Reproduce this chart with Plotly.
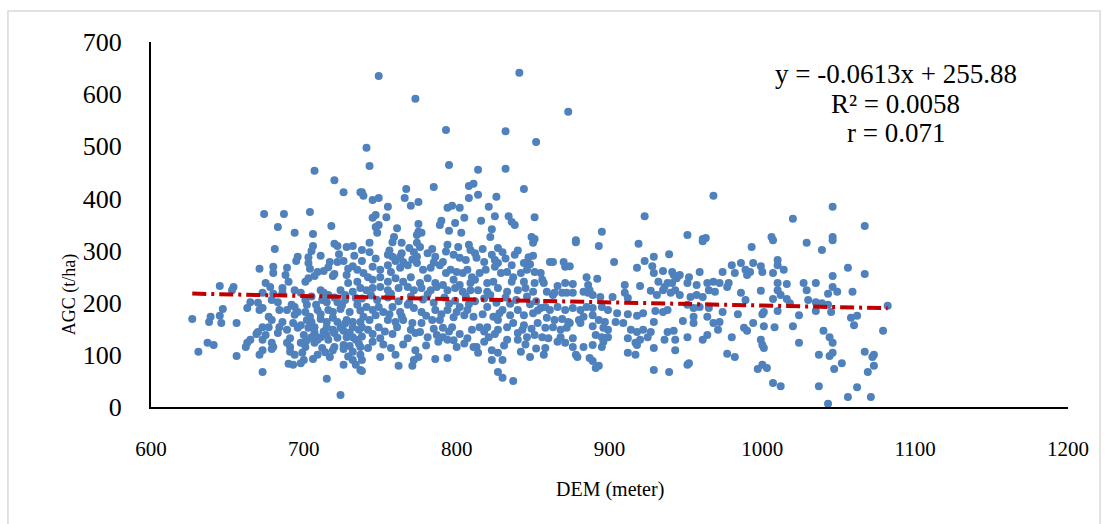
import plotly.graph_objects as go

# (DEM meter, AGC t/ha) pairs, grouped by region
pts_upper = [(707,453),(720,435),(726,412),(737,412),(674,370),(687,370),(704,374),(683,345),(694,334),(706,332),(718,347),
    (749,635),(773,591),(793,531),(841,641),(832,529),(852,508),(741,497),(743,462),(795,464),(814,455),(832,457),(738,412),
    (739,405),(745,397),(749,401),(755,384),(767,418),(766,401),(770,386),(775,393),(785,422),(808,424),(811,428),(808,401),
    (814,407),(826,403),(844,418),(794,382),(797,386),(802,382),(821,384),(747,368),(745,363),(754,364),(749,349),(747,345),
    (748,334),(761,343),(775,351),(790,357),(789,349),(795,338),(799,353),(805,363),(803,334),(816,357),(825,366),(834,366),
    (836,355),(838,349),(823,341),(851,364),(775,336),(777,334),(774,330),(759,326),(822,326),(849,326),(851,322),
    (873,566),(968,405),(923,366),(895,336),(878,320),(951,330),(961,322),(963,324),
    (1046,384),(1020,361),(1067,347),(1006,326),(1046,326)]

pts_left = [(681,303),(706,309),(705,299),(720,313),(722,309),(728,307),(732,309),(696,288),(695,280),(671,265),(680,269),
    (680,257),(689,267),(688,253),(703,276),(709,259),(713,261),(707,251),(717,278),(722,278),(726,280),(732,270),(735,263),
    (720,255),(719,251),(728,253),(675,238),(678,230),(686,228),(690,240),(701,240),(703,247),(645,232),(654,230),(653,224),
    (729,238),(735,240),(673,219),(680,217),(686,219),(694,224),(698,219),(711,224),(713,219),(716,215),(724,224),(732,221),
    (665,201),(670,200),(679,205),(683,201),(692,196),(694,192),(702,196),(715,201),(722,201),(727,205),(734,209),(735,196),
    (663,190),(647,188),(671,186),(673,190),(684,186),(689,186),(696,182),(701,182),(709,186),(711,178),(716,186),(719,182),
    (724,188),(730,182),(627,169),(638,163),(639,173),(645,175),(646,161),(656,161),(677,173),(679,167),(686,163),(694,177),
    (693,161),(702,167),(704,173),(711,169),(715,163),(719,171),(722,163),(728,167),(732,163),(673,153),(670,144),(677,153),
    (684,153),(689,148),(696,152),(698,157),(703,152),(707,153),(715,153),(719,148),(724,152),(732,153),(736,148),(669,140),
    (675,138),(683,142),(691,132),(700,138),(705,134),(711,134),(715,138),(720,142),(726,146),(728,134),(732,134),(665,129),
    (663,123),(662,115),(673,129),(679,123),(680,115),(689,123),(691,115),(698,123),(701,115),(707,123),(709,129),(716,129),
    (720,115),(726,119),(730,117),(734,129),(637,123),(641,119),(631,106),(673,109),(671,100),(679,111),(691,106),(694,100),
    (699,104),(712,113),(719,109),(726,111),(732,106),(656,98),(700,90),(698,84),(706,92),(717,96),(726,81),(732,90),(734,81),
    (690,83),(693,81),(673,67),(737,71),(715,54),(724,23),
    (705,212),(712,205),(720,210),(727,215),(738,208),(701,205),(708,196),(725,195),(737,185),(707,143),(713,145),(730,143),
    (738,135),(702,128),(722,133),(736,122),(709,100),(714,105),(729,97),(738,90),(705,163),(727,160),(737,163),(703,287),
    (711,290),(723,293),(733,290),(738,280),(704,265),(716,268),(729,265)]

pts_center = [(743,315),(743,297),(738,301),(758,316),(764,315),(764,295),(774,315),(776,307),(794,311),(801,307),(808,311),
    (809,301),(827,305),(830,297),(850,315),(850,290),(755,292),(758,288),(763,288),(765,278),(772,297),(774,288),(781,295),
    (786,288),(791,278),(798,292),(802,286),(812,295),(813,286),(823,292),(825,282),(827,276),(836,272),(844,276),(848,274),
    (745,269),(750,263),(755,272),(757,259),(763,267),(768,272),(774,276),(778,263),(783,267),(789,272),(793,257),(796,263),
    (800,259),(804,257),(807,263),(810,249),(815,257),(819,263),(825,269),(829,257),(833,259),(837,249),(842,257),(846,263),
    (851,259),(739,257),(742,249),(745,244),(750,249),(755,240),(760,247),(765,240),(770,249),(776,238),(781,247),(786,238),
    (791,234),(798,244),(802,234),(809,238),(812,244),(820,238),(824,240),(836,240),(844,240),(851,238),(737,228),(741,224),
    (745,228),(750,230),(755,224),(762,228),(768,230),(772,224),(777,228),(783,224),(787,230),(794,224),(799,228),(804,221),
    (809,224),(814,224),(820,221),(827,228),(833,221),(840,224),(845,228),(850,221),
    (741,192),(745,186),(739,173),(743,167),(738,153),(742,148),(749,192),(752,182),(749,153),(750,132),(758,192),(763,182),
    (755,167),(760,163),(761,153),(768,196),(772,190),(765,167),(771,161),(777,182),(777,161),(784,167),(786,186),(770,148),
    (768,132),(776,144),(781,134),(789,167),(791,152),(797,153),(794,186),(800,182),(791,134),(794,129),(787,138),(802,192),
    (807,186),(811,173),(815,153),(807,132),(813,115),(820,192),(824,173),(820,153),(821,134),(827,167),(827,148),(830,186),
    (835,176),(840,186),(833,153),(837,161),(844,157),(840,142),(846,134),(851,138),(833,129),(840,129),(850,180),(853,161),
    (737,115),(742,113),(737,100),(750,96),(757,113),(760,100),(773,109),(775,96),(772,90),(786,92),(794,94),(800,115),
    (811,115),(814,104),(823,109),(827,104),(823,90),(830,90),(842,106),(848,96),(762,79),(771,79),(738,69),(827,67),
    (830,56),(837,50)]

pts_core = [(748,205),(755,210),(762,203),(770,212),(778,206),(785,200),(792,210),(799,204),(806,212),(812,203),(818,208),
    (826,200),(832,210),(839,205),(846,212),(852,203),(744,214),(757,217),(769,200),(781,216),(795,198),(808,197),(822,215),
    (835,198),(848,197),(747,176),(756,178),(764,174),(780,175),(790,178),(798,172),(805,176),(817,178),(828,180),(844,176),
    (853,185),(745,140),(753,145),(758,140),(773,142),(785,150),(795,145),(802,140),(810,148),(818,145),(825,140),(843,148),
    (849,150),(745,125),(752,120),(765,120),(780,118),(788,125),(798,128),(805,122),(818,125),(831,118),(845,120),(852,112),
    (747,285),(760,280),(771,283),(785,277),(793,298),(806,282),(818,278),(832,285),(840,300),(847,287),(756,300),(769,305),
    (784,303),(817,303),(838,292)]

pts_right = [(878,316),(893,309),(919,313),(961,318),(861,278),(863,278),(870,278),(871,269),(874,270),(903,278),(918,267),
    (923,280),(929,288),(928,270),(939,293),(929,257),(935,261),(941,259),(942,253),(946,253),(952,249),(959,259),(855,257),
    (856,244),(885,249),(892,246),(857,238),(866,232),(871,238),(876,236),(886,234),(887,224),(910,234),(920,232),(932,240),
    (938,238),(936,230),(944,247),(941,238),(951,238),(957,234),(964,238),(968,240),(859,221),(863,215),(864,219),(869,219),
    (872,219),(876,219),(883,221),(886,219),(889,215),(894,211),(902,211),(910,219),(912,209),(927,223),(931,215),(935,224),
    (940,219),(943,224),(946,215),(953,211),(957,215),(961,211),(965,224),(969,221),
    (855,190),(858,192),(861,186),(866,192),(871,186),(876,190),(881,186),(885,192),(889,190),(895,192),(899,186),(905,180),
    (912,178),(918,175),(922,180),(930,184),(935,182),(938,186),(951,196),(955,190),(959,192),(965,190),(859,171),(864,167),
    (869,169),(873,163),(880,167),(883,173),(889,176),(893,167),(897,163),(904,163),(909,161),(929,163),(948,165),(955,173),
    (964,173),(858,152),(863,153),(868,148),(872,152),(874,161),(881,161),(889,155),(896,152),(899,148),(914,148),(918,144),
    (922,148),(927,144),(938,144),(942,146),(951,134),(955,161),(964,138),(968,161),(971,148),(856,134),(860,132),(868,134),
    (866,125),(871,123),(876,132),(876,115),(891,138),(895,134),(896,125),(899,134),(912,132),(920,129),(925,134),(936,129),
    (943,129),(961,129),(858,113),(857,100),(883,115),(889,119),(895,115),(917,123),(918,119),(929,113),(943,109),(912,104),
    (917,100),(878,100),(879,96),(887,94),(889,88),(893,79),(891,75),(951,81),(952,84),(929,71),(939,67)]

pts_far = [(993,307),(1007,320),(1029,315),(1039,301),(1046,320),(980,272),(986,276),(974,259),(982,257),(989,263),(992,259),
    (994,276),(999,270),(1000,259),(990,253),(1007,257),(1010,282),(1010,272),(1014,263),(1046,251),(1056,267),(1067,255),
    (972,238),(978,238),(977,230),(986,219),(989,205),(999,223),(1010,238),(1016,236),(1010,224),(1012,215),(1027,238),
    (1029,224),(1035,238),(1046,230),(1049,221),(1043,217),(1059,221),(1007,207),(1016,207),(1018,199),(1030,205),(1035,201),
    (1039,199),(1043,196),(1082,194),(974,182),(984,178),(1001,182),(1000,178),(1010,184),(1024,176),(1035,184),(1045,182),
    (1058,171),(1060,157),(1062,175),(972,163),(988,152),(990,146),(994,161),(1001,155),(1008,153),(1020,155),(1040,146),
    (1044,134),(1046,123),(1079,146),(980,134),(999,129),(1000,119),(1001,113),(1024,123),(977,102),(982,96),(1037,100),
    (1044,98),(1046,104),(1067,106),(1073,100),(1072,96),(1052,84),(1047,73),(1073,79),(1069,67),(997,73),(1000,81),
    (1003,75),(1007,46),(1012,40),(1037,40),(1062,38),(1056,19),(1071,19),(1043,6)]

slope = -0.0613
intercept = 255.88
trend_x = [627, 1082]
eq_lines = ["y = -0.0613x + 255.88", "R² = 0.0058", "r = 0.071"]

all_pts = pts_upper + pts_left + pts_center + pts_core + pts_right + pts_far
dem = [p[0] for p in all_pts]
agc = [p[1] for p in all_pts]

serif = "Liberation Serif, Times New Roman, serif"

fig = go.Figure()
fig.add_trace(go.Scatter(x=dem, y=agc, mode="markers",
                         marker=dict(color="#4F81BD", size=8, line=dict(width=0)),
                         showlegend=False, hoverinfo="skip"))
fig.add_trace(go.Scatter(x=trend_x, y=[slope * v + intercept for v in trend_x], mode="lines",
                         line=dict(color="#C00000", width=4, dash="14px,5px,3px,5px"),
                         showlegend=False, hoverinfo="skip"))

fig.update_layout(
    width=1107, height=524,
    margin=dict(l=151, r=39, t=42, b=117),
    paper_bgcolor="white", plot_bgcolor="white",
    font=dict(family=serif, color="black"),
    xaxis=dict(range=[600, 1200], dtick=100, tick0=600, showgrid=False, zeroline=False,
               showline=True, linecolor="black", linewidth=2, ticks="",
               tickfont=dict(family=serif, size=21), ticklabelstandoff=22),
    yaxis=dict(range=[0, 700], dtick=100, tick0=0, showgrid=False, zeroline=False,
               showline=True, linecolor="black", linewidth=2, ticks="",
               tickfont=dict(family=serif, size=26), ticklabelstandoff=22),
    shapes=[dict(type="rect", xref="paper", yref="paper", x0=-0.156, x1=1.035, y0=-0.33, y1=1.085,
                 line=dict(color="#D9D9D9", width=1.5), fillcolor="rgba(0,0,0,0)", layer="below")],
)

fig.add_annotation(text="AGC (t/ha)", xref="paper", yref="paper", x=-0.088, y=0.307,
                   textangle=-90, showarrow=False, font=dict(family=serif, size=18),
                   xanchor="center", yanchor="middle")
fig.add_annotation(text="DEM (meter)", xref="paper", yref="paper", x=0.5, y=-0.227,
                   showarrow=False, font=dict(family=serif, size=20),
                   xanchor="center", yanchor="middle")
for txt, yy in zip(eq_lines, [0.912, 0.830, 0.751]):
    fig.add_annotation(text=txt, xref="paper", yref="paper", x=0.8124, y=yy,
                       showarrow=False, font=dict(family=serif, size=27),
                       xanchor="center", yanchor="middle")

fig.write_html("out.html", config={"displayModeBar": False},
               post_script="document.body.style.margin='0';document.body.style.overflow='hidden';")
